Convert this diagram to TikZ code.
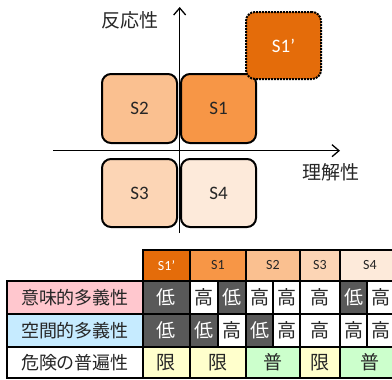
\documentclass[tikz,border=0pt]{standalone}
\usepackage{fontspec}
\setmainfont{Carlito}
\newfontfamily\jp{Noto Sans CJK JP}
\usetikzlibrary{arrows.meta}
\definecolor{cSa}{HTML}{E46C0A}
\definecolor{cSb}{HTML}{F79646}
\definecolor{cSc}{HTML}{FAC090}
\definecolor{cSd}{HTML}{FCD5B5}
\definecolor{cSe}{HTML}{FDEADA}
\definecolor{cdark}{HTML}{595959}
\definecolor{cpink}{HTML}{FFC7CE}
\definecolor{cblue}{HTML}{C6EBFF}
\definecolor{cyel}{HTML}{FFFFCC}
\definecolor{cgrn}{HTML}{CCFFCC}
\definecolor{ctxt}{HTML}{262626}
\newcommand\tcell[8]{%
  \path[fill=#5,draw=black,line width=1.2pt] (#1,#2) rectangle (#3,#4);
  \node[text=#6,inner sep=0pt] (#8) at ({(#1+#3)/2},{(#2+#4)/2}) {#7};
}
\begin{document}
\begin{tikzpicture}[x=1pt,y=-1pt,
  sbox/.style={draw=black,line width=2pt,rounded corners=9pt,inner sep=0pt,
    minimum width=75pt,text=ctxt,font=\fontsize{19}{19}\selectfont},
  axisline/.style={line width=1.3pt,-{Straight Barb[length=7pt,width=12pt,line width=1.3pt]}},
  axlabel/.style={text=ctxt,font=\jp\fontsize{19}{19}\selectfont,inner sep=0pt},
  hdr/.style={font=\fontsize{14}{14}\selectfont},
  cj/.style={font=\jp\fontsize{19}{19}\selectfont},
  lab/.style={font=\jp\fontsize{18}{18}\selectfont}
]
\useasboundingbox (0,0) rectangle (392,380);
\fill[white] (0,0) rectangle (392,380);

% quadrant boxes
\node[sbox,fill=cSc,minimum height=69pt] (s2) at (139.5,108.5) {S2};
\node[sbox,fill=cSb,minimum height=69pt] (s1) at (218.5,108.5) {S1};
\node[sbox,fill=cSd,minimum height=68pt] (s3) at (139.5,193) {S3};
\node[sbox,fill=cSe,minimum height=68pt] (s4) at (218.5,193) {S4};
\node[sbox,fill=cSa,minimum height=67pt,densely dotted,text=white] (s1p) at (283.5,45.5) {S1’};

% axes
\coordinate (vb) at (179.7,233);
\coordinate (vt) at (179.7,7);
\coordinate (hl) at (53,150.7);
\coordinate (hr) at (340,150.7);
\draw[axisline] (vb) -- (vt);
\draw[axisline] (hl) -- (hr);
\node[axlabel] (ylab) at (130,20) {反応性};
\node[axlabel] (xlab) at (331,172) {理解性};

% table header
\begin{scope}[hdr]
\tcell{143}{250}{190}{281}{cSa}{white}{S1’}{h0}
\tcell{190}{250}{246}{281}{cSb}{ctxt}{S1}{h1}
\tcell{246}{250}{300}{281}{cSc}{ctxt}{S2}{h2}
\tcell{300}{250}{340}{281}{cSd}{ctxt}{S3}{h3}
\tcell{340}{250}{400}{281}{cSe}{ctxt}{S4}{h4}
\end{scope}
% row labels
\begin{scope}[lab]
\tcell{7}{281}{143}{314}{cpink}{ctxt}{意味的多義性}{l1}
\tcell{7}{314}{143}{347}{cblue}{ctxt}{空間的多義性}{l2}
\tcell{7}{347}{143}{378}{white}{ctxt}{危険の普遍性}{l3}
\end{scope}
\begin{scope}[cj]
% row 1
\tcell{143}{281}{190}{314}{cdark}{white}{低}{a0}
\tcell{190}{281}{218}{314}{white}{ctxt}{高}{a1}
\tcell{218}{281}{246}{314}{cdark}{white}{低}{a2}
\tcell{246}{281}{273}{314}{white}{ctxt}{高}{a3}
\tcell{273}{281}{300}{314}{white}{ctxt}{高}{a4}
\tcell{300}{281}{340}{314}{white}{ctxt}{高}{a5}
\tcell{340}{281}{367}{314}{cdark}{white}{低}{a6}
\tcell{367}{281}{394}{314}{white}{ctxt}{高}{a7}
% row 2
\tcell{143}{314}{190}{347}{cdark}{white}{低}{b0}
\tcell{190}{314}{218}{347}{cdark}{white}{低}{b1}
\tcell{218}{314}{246}{347}{white}{ctxt}{高}{b2}
\tcell{246}{314}{273}{347}{cdark}{white}{低}{b3}
\tcell{273}{314}{300}{347}{white}{ctxt}{高}{b4}
\tcell{300}{314}{340}{347}{white}{ctxt}{高}{b5}
\tcell{340}{314}{367}{347}{white}{ctxt}{高}{b6}
\tcell{367}{314}{394}{347}{white}{ctxt}{高}{b7}
% row 3
\tcell{143}{347}{190}{378}{cyel}{ctxt}{限}{c0}
\tcell{190}{347}{246}{378}{cyel}{ctxt}{限}{c1}
\tcell{246}{347}{300}{378}{cgrn}{ctxt}{普}{c2}
\tcell{300}{347}{340}{378}{cyel}{ctxt}{限}{c3}
\tcell{340}{347}{400}{378}{cgrn}{ctxt}{普}{c4}
\end{scope}
% thick outer borders
\draw[line width=2.5pt] (143,281) -- (143,250) -- (394,250);
\draw[line width=2.5pt] (7,281) rectangle (143,378);
\draw[line width=2.5pt] (143,378) -- (394,378);
\end{tikzpicture}
\end{document}
